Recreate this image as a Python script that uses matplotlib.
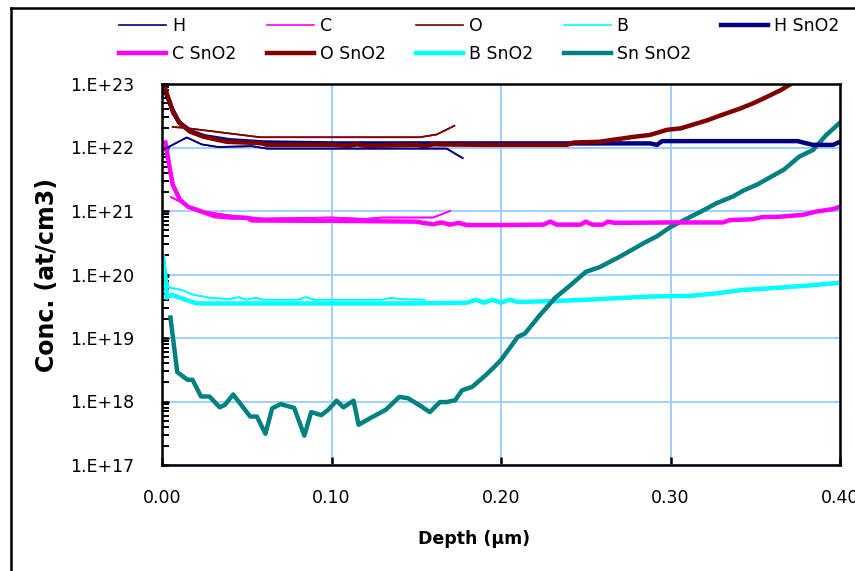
import matplotlib.pyplot as plt
import matplotlib.ticker as mticker
from matplotlib.lines import Line2D
import numpy as np

# Perfis SIMS - profundidade (um) e concentracao (at/cm3)
h_x = [0.002, 0.0146, 0.0234, 0.033, 0.053, 0.062, 0.10, 0.14, 0.168, 0.1774]
h_y = [9.6e21, 1.44e22, 1.12e22, 1.02e22, 1.05e22, 9.6e21, 9.6e21, 9.6e21, 9.6e21, 6.8e21]

c_x = [0.0053, 0.0155, 0.025, 0.04, 0.06, 0.10, 0.12, 0.13, 0.16, 0.17]
c_y = [1.66e21, 1.2e21, 9.8e20, 8.5e20, 7.6e20, 7.9e20, 7.5e20, 7.9e20, 7.9e20, 1.0e21]

o_x = [0.0063, 0.0126, 0.058, 0.152, 0.162, 0.1725]
o_y = [2.1e22, 2.05e22, 1.45e22, 1.45e22, 1.6e22, 2.2e22]

b_x = [0.0006, 0.0037, 0.0116, 0.0186, 0.0283, 0.04, 0.045, 0.05, 0.055, 0.06, 0.08,
       0.085, 0.09, 0.13, 0.135, 0.14, 0.155]
b_y = [1.9e20, 6.3e19, 5.7e19, 4.8e19, 4.3e19, 4.1e19, 4.4e19, 4.0e19, 4.3e19, 4.0e19, 4.0e19,
       4.4e19, 4.0e19, 4.0e19, 4.3e19, 4.1e19, 4.0e19]

hs_x = [0.001, 0.006, 0.010, 0.017, 0.025, 0.04, 0.06, 0.10, 0.20, 0.288, 0.292, 0.295,
        0.30, 0.375, 0.384, 0.396, 0.40]
hs_y = [9e22, 4e22, 2.5e22, 1.8e22, 1.5e22, 1.3e22, 1.2e22, 1.16e22, 1.16e22, 1.16e22, 1.1e22, 1.26e22,
        1.26e22, 1.26e22, 1.1e22, 1.1e22, 1.23e22]

cs_x = [0.002, 0.0063, 0.0106, 0.0155, 0.0224, 0.031, 0.040, 0.050, 0.053, 0.10, 0.15, 0.154,
        0.16, 0.165, 0.17, 0.175, 0.18, 0.20, 0.225, 0.229, 0.233, 0.247, 0.25, 0.254,
        0.26, 0.263, 0.267, 0.30, 0.331, 0.335, 0.348, 0.354, 0.364, 0.378, 0.386, 0.396, 0.40]
cs_y = [1.2e22, 2.6e21, 1.5e21, 1.16e21, 1.0e21, 8.3e20, 7.9e20, 7.8e20, 7.1e20, 7.0e20, 6.8e20, 6.5e20,
        6.2e20, 6.6e20, 6.1e20, 6.5e20, 6.0e20, 6.0e20, 6.1e20, 6.8e20, 6.1e20, 6.1e20, 6.8e20, 6.1e20,
        6.1e20, 6.8e20, 6.5e20, 6.6e20, 6.6e20, 7.2e20, 7.4e20, 8.0e20, 8.1e20, 8.7e20, 9.8e20, 1.07e21, 1.17e21]

os_x = [0.001, 0.0067, 0.0106, 0.0165, 0.0244, 0.038, 0.058, 0.062, 0.10, 0.11, 0.115, 0.12,
        0.15, 0.155, 0.16, 0.19, 0.239, 0.243, 0.258, 0.264, 0.279, 0.288, 0.298, 0.306,
        0.322, 0.328, 0.341, 0.349, 0.357, 0.365, 0.371, 0.38]
os_y = [1.0e23, 3.5e22, 2.4e22, 1.78e22, 1.48e22, 1.23e22, 1.17e22, 1.1e22, 1.1e22, 1.06e22, 1.12e22, 1.06e22,
        1.1e22, 1.05e22, 1.12e22, 1.1e22, 1.1e22, 1.2e22, 1.23e22, 1.3e22, 1.48e22, 1.58e22, 1.9e22, 2.0e22,
        2.7e22, 3.1e22, 4.1e22, 5.0e22, 6.3e22, 8.0e22, 1.0e23, 1.3e23]

bs_x = [0.0006, 0.0024, 0.0028, 0.0057, 0.0106, 0.0205, 0.06, 0.10, 0.15, 0.18, 0.185, 0.19,
        0.195, 0.20, 0.205, 0.21, 0.23, 0.25, 0.258, 0.288, 0.311, 0.326, 0.342, 0.36, 0.378, 0.40]
bs_y = [1.9e20, 7.3e19, 4.3e19, 4.8e19, 4.3e19, 3.5e19, 3.5e19, 3.5e19, 3.5e19, 3.6e19, 4.0e19, 3.6e19,
        4.0e19, 3.6e19, 4.0e19, 3.7e19, 3.8e19, 4.0e19, 4.1e19, 4.5e19, 4.6e19, 5.0e19, 5.7e19, 6.1e19, 6.6e19, 7.4e19]

sn_x = [0.005, 0.009, 0.015, 0.018, 0.023, 0.028, 0.034, 0.037, 0.042, 0.052, 0.056, 0.061,
        0.065, 0.070, 0.078, 0.084, 0.088, 0.094, 0.098, 0.103, 0.107, 0.113, 0.116, 0.123,
        0.132, 0.140, 0.145, 0.152, 0.158, 0.164, 0.168, 0.173, 0.177, 0.183, 0.191, 0.196,
        0.200, 0.210, 0.214, 0.223, 0.232, 0.241, 0.250, 0.258, 0.270, 0.284, 0.292, 0.300,
        0.308, 0.318, 0.327, 0.337, 0.343, 0.351, 0.358, 0.367, 0.376, 0.384, 0.392, 0.401]
sn_y = [2.1e19, 2.9e18, 2.2e18, 2.2e18, 1.2e18, 1.2e18, 8.1e17, 8.8e17, 1.29e18, 5.8e17, 5.8e17, 3.1e17,
        7.8e17, 9.1e17, 7.9e17, 2.9e17, 6.8e17, 6.1e17, 7.4e17, 1.03e18, 8.1e17, 1.03e18, 4.3e17, 5.5e17,
        7.4e17, 1.18e18, 1.13e18, 8.7e17, 6.8e17, 9.8e17, 9.8e17, 1.05e18, 1.5e18, 1.7e18, 2.6e18, 3.5e18,
        4.5e18, 1.05e19, 1.17e19, 2.3e19, 4.3e19, 6.8e19, 1.1e20, 1.3e20, 1.9e20, 3.1e20, 4.0e20, 5.6e20,
        7.2e20, 9.8e20, 1.32e21, 1.7e21, 2.1e21, 2.6e21, 3.3e21, 4.5e21, 7.2e21, 9.1e21, 1.58e22, 2.6e22]

navy = '#000080'
magenta = '#FF00FF'
maroon = '#800000'
cyan = '#00FFFF'
teal = '#008080'

fig = plt.figure(figsize=(8.55, 5.71), dpi=100)
ax = fig.add_axes([162/855, 106/571, 678/855, 381/571])

fino = 1.2
grosso = 3.2
l_h, = ax.plot(h_x, h_y, color=navy, lw=fino, label='H')
l_c, = ax.plot(c_x, c_y, color=magenta, lw=fino, label='C')
l_o, = ax.plot(o_x, o_y, color=maroon, lw=fino, label='O')
l_b, = ax.plot(b_x, b_y, color=cyan, lw=fino, label='B')
l_bs, = ax.plot(bs_x, bs_y, color=cyan, lw=grosso, label='B SnO2')
l_sn, = ax.plot(sn_x, sn_y, color=teal, lw=grosso, label='Sn SnO2')
l_cs, = ax.plot(cs_x, cs_y, color=magenta, lw=grosso, label='C SnO2')
l_hs, = ax.plot(hs_x, hs_y, color=navy, lw=grosso, label='H SnO2')
l_os, = ax.plot(os_x, os_y, color=maroon, lw=grosso, label='O SnO2')
# redesenha as finas por cima
for x, y, c in [(h_x, h_y, navy), (o_x, o_y, maroon), (c_x, c_y, magenta), (b_x, b_y, cyan)]:
    ax.plot(x, y, color=c, lw=fino)

ax.set_yscale('log')
ax.set_ylim(1e17, 1e23)
ax.set_xlim(0, 0.4)
ax.set_xticks([0.0, 0.1, 0.2, 0.3, 0.4])
ax.xaxis.set_major_formatter(mticker.FormatStrFormatter('%.2f'))
ax.yaxis.set_major_locator(mticker.LogLocator(base=10, numticks=10))
ax.yaxis.set_minor_locator(mticker.LogLocator(base=10, subs=np.arange(2, 10), numticks=10))
ax.yaxis.set_minor_formatter(mticker.NullFormatter())
ax.yaxis.set_major_formatter(mticker.FuncFormatter(lambda v, p: '1.E+%d' % round(np.log10(v))))

ax.grid(True, which='major', color='#99CCFF', lw=1.3)
ax.set_axisbelow(True)
for s in ax.spines.values():
    s.set_linewidth(1.8)
ax.tick_params(axis='both', which='major', direction='in', length=5, width=1.8, labelsize=12.5, colors='black')
ax.tick_params(axis='x', which='major', pad=17, length=6)
ax.tick_params(axis='y', which='major', pad=20)
ax.tick_params(axis='y', which='minor', direction='in', length=5, width=1.4)

ax.set_xlabel('Depth (µm)', fontsize=12.5, fontweight='bold')
ax.xaxis.set_label_coords(0.46, -0.17)
ax.set_ylabel('Conc. (at/cm3)', fontsize=17, fontweight='bold')
ax.yaxis.set_label_coords(-0.152, 0.5)

# legenda em 5 colunas, preenchida por coluna
handles = [l_h, l_cs, l_c, l_os, l_o, l_bs, l_b, l_sn, l_hs]
fig.legend(handles=handles, labels=[h.get_label() for h in handles], ncol=5,
           loc='upper left', bbox_to_anchor=(119/855, 1 - 17/571), frameon=False,
           fontsize=12.5, handlelength=2.7, handletextpad=0.35, columnspacing=1.75,
           labelspacing=0.58, borderpad=0, borderaxespad=0)

# moldura externa
fig.add_artist(Line2D([11/855, 11/855], [0, 1 - 8/571], transform=fig.transFigure, color='black', lw=1.8))
fig.add_artist(Line2D([11/855, 1], [1 - 8/571, 1 - 8/571], transform=fig.transFigure, color='black', lw=1.8))

fig.savefig('out.png', dpi=100)
